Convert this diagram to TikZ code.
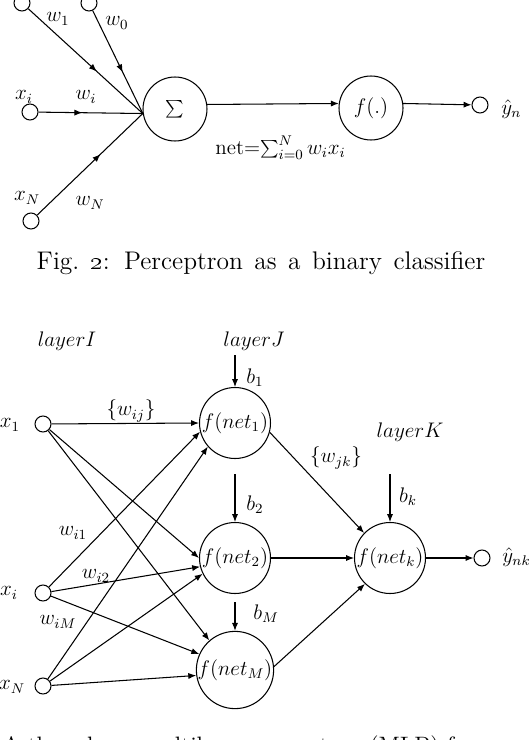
\documentclass[tikz,border=0pt]{standalone}
\usetikzlibrary{arrows.meta,decorations.markings}

\tikzset{
  port/.style={draw, circle, minimum size=0.32cm, inner sep=0pt},
  unit/.style={draw, circle, minimum size=1.28cm, inner sep=0pt},
  neuron/.style={draw, circle, minimum size=1.42cm, inner sep=0pt},
  midarrow/.style={postaction={decorate}, decoration={markings, mark=at position #1 with {\arrow{Latex[length=4.5pt,width=3.5pt]}}}},
  captext/.style={font=\fontsize{14.5}{17}\selectfont},
  bodytext/.style={font=\fontsize{13.5}{16}\selectfont},
}

\begin{document}
\begin{tikzpicture}[x=0.02cm, y=-0.02cm, >={Latex[length=4.5pt,width=3.5pt]}, line width=0.6pt, font=\fontsize{12}{14}\selectfont]
\useasboundingbox (0,0) rectangle (530,740);

\node[port](I1) at (22,3){};
\node[port](I0) at (89,3){};
\node[port](Ii) at (30,112){};
\node[port](IN) at (31,221){};
\node[unit](S) at (175,109){$\sum$};
\node[unit](F) at (371,108){$f(.)$};
\node[port](Y) at (480,105){};

\node(Lw1) at (58,19){$w_1$};
\node(Lw0) at (117,23){$w_0$};
\node(Lxi) at (24,97){$x_i$};
\node(Lwi) at (86,97){$w_i$};
\node(LxN) at (27,198){$x_N$};
\node(LwN) at (90,203){$w_N$};
\node[anchor=west](Lnet) at (209,148){net=$\sum_{i=0}^{N}w_ix_i$};
\node[anchor=west](Ly) at (495,109){$\hat{y}_n$};

\draw[midarrow=0.6](I1)--(S.188);
\draw[midarrow=0.6](I0)--(S.188);
\draw[midarrow=0.42](Ii)--(S.188);
\draw[midarrow=0.6](IN)--(S.188);
\draw[->](S.8)--(F.172);
\draw[->](F.8)--(Y);

\node[captext](cap) at (261,263){\spaceskip=0.45em\relax Fig.~\oldstylenums{2}: Perceptron as a binary classifier};

\node(LI) at (67,341){$layerI$};
\node(LJ) at (254,341){$layerJ$};
\node(LK) at (410,432){$layerK$};

\node[port](X1) at (43,424){};
\node[port](Xi) at (43,593){};
\node[port](XN) at (43,686){};
\node(Lx1) at (10,425){$x_1$};
\node(Lxi2) at (9,593){$x_i$};
\node(LxN2) at (12,687){$x_N$};

\node[neuron](H1) at (235,423){$f(net_1)$};
\node[neuron](H2) at (235,558){$f(net_2)$};
\node[neuron](HM) at (235,670){$f(net_M)$};
\node[neuron](K) at (390,558){$f(net_k)$};
\node[port](YK) at (482,558){};
\node[anchor=west](Lyk) at (496,557){$\hat{y}_{nk}$};

\coordinate(B1) at (235,355);
\coordinate(B2) at (235,474);
\coordinate(BM) at (235,602);
\coordinate(BK) at (390,474);
\node(Lb1) at (255,378){$b_1$};
\node(Lb2) at (255,505){$b_2$};
\node(LbM) at (266,614){$b_M$};
\node(Lbk) at (408,497){$b_k$};

\node(Lwij) at (131,411){$\{w_{ij}\}$};
\node(Lwjk) at (336,458){$\{w_{jk}\}$};
\node(Lwi1) at (73,533){$w_{i1}$};
\node(Lwi2) at (96,576){$w_{i2}$};
\node(LwiM) at (58,622){$w_{iM}$};

\draw[->](B1)--(H1);
\draw[->](B2)--(H2);
\draw[->](BM)--(HM);
\draw[->](BK)--(K);

\draw[->](X1)--(H1.180);
\draw[->](X1)--(H2.180);
\draw[->](X1)--(HM.131);
\draw[->](Xi)--(H1.194);
\draw[->](Xi)--(H2.194);
\draw[->](Xi)--(HM.156);
\draw[->](XN)--(H1.221);
\draw[->](XN)--(H2.206);
\draw[->](XN)--(HM.188);

\draw[->](H1.345)--(K.136);
\draw[->](H2)--(K);
\draw[->](HM.5)--(K.226);
\draw[->](K)--(YK);

\begin{scope}
\clip (0,0) rectangle (530,740);
\node[bodytext, anchor=base west, inner sep=0pt](next) at (2,753){A three-layer multilayer perceptron (MLP) for};
\end{scope}
\end{tikzpicture}
\end{document}
